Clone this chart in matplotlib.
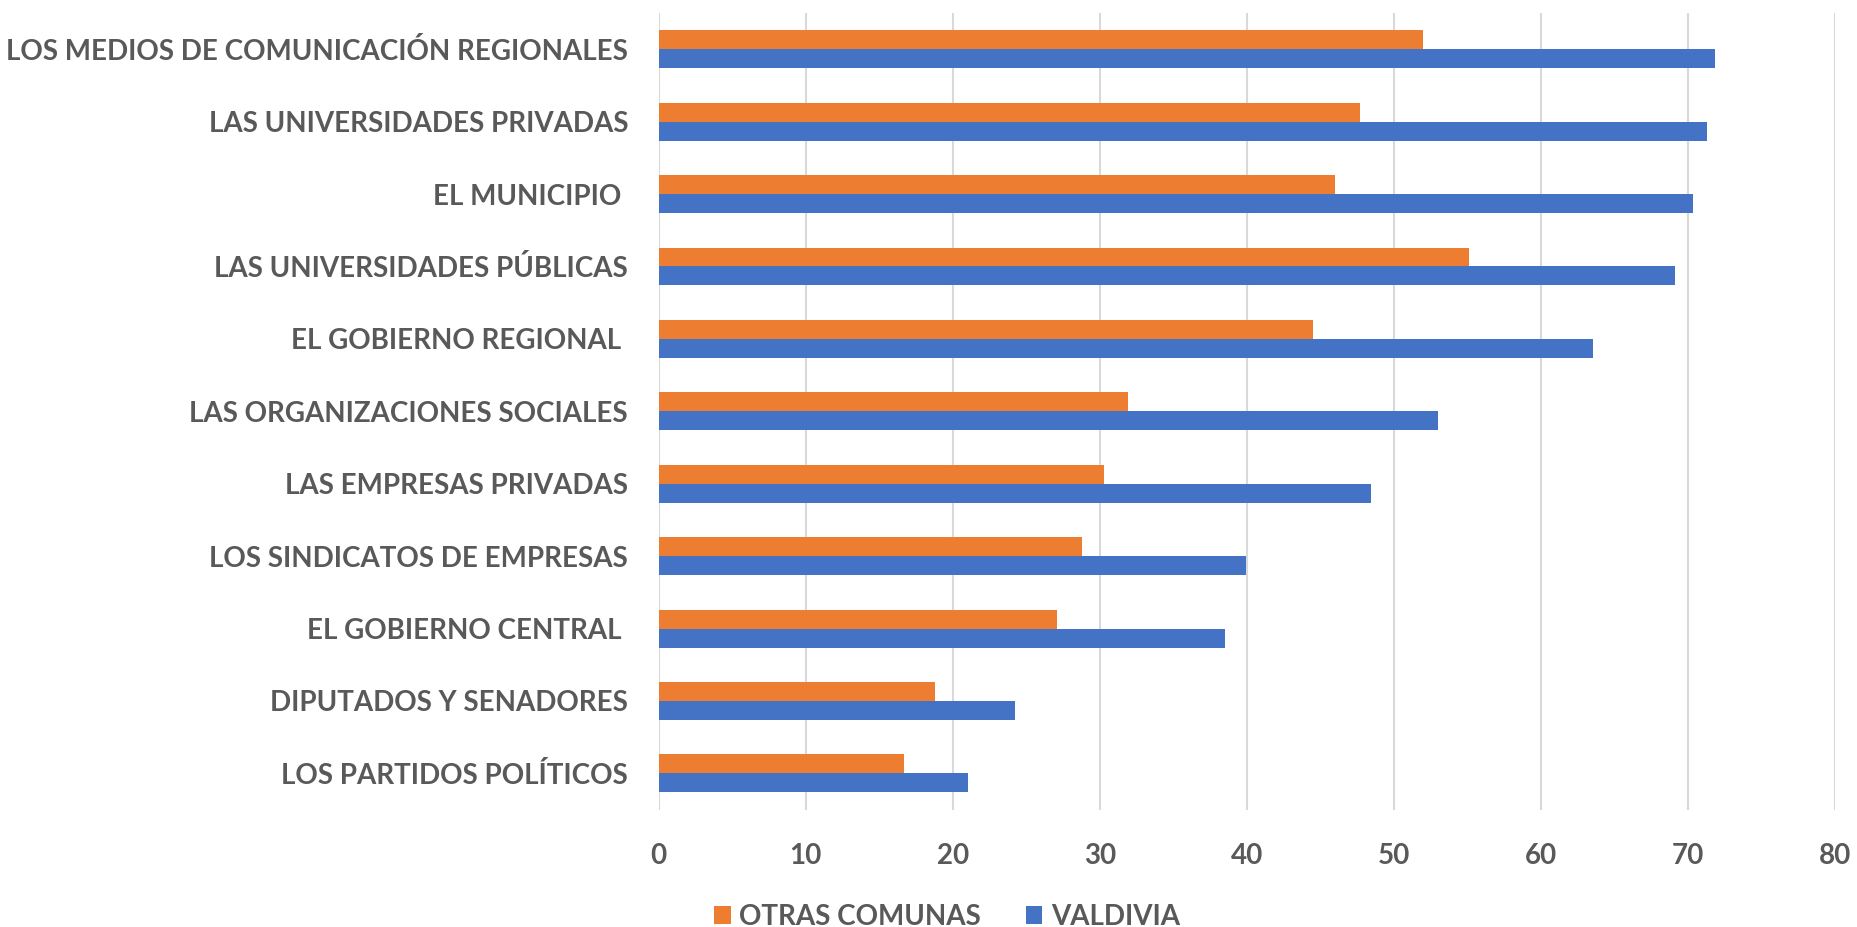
import numpy as np
import matplotlib.pyplot as plt

# instituciones, de arriba hacia abajo
categorias = [
    "LOS MEDIOS DE COMUNICACIÓN REGIONALES",
    "LAS UNIVERSIDADES PRIVADAS",
    "EL MUNICIPIO ",
    "LAS UNIVERSIDADES PÚBLICAS",
    "EL GOBIERNO REGIONAL ",
    "LAS ORGANIZACIONES SOCIALES",
    "LAS EMPRESAS PRIVADAS",
    "LOS SINDICATOS DE EMPRESAS",
    "EL GOBIERNO CENTRAL ",
    "DIPUTADOS Y SENADORES",
    "LOS PARTIDOS POLÍTICOS",
]
otras_comunas = [52.0, 47.7, 46.0, 55.1, 44.5, 31.9, 30.3, 28.8, 27.1, 18.8, 16.7]
valdivia = [71.8, 71.3, 70.3, 69.1, 63.5, 53.0, 48.4, 39.9, 38.5, 24.2, 21.0]
ticks_x = [0, 10, 20, 30, 40, 50, 60, 70, 80]

naranja = "#ED7D31"
azul = "#4472C4"
gris = "#595959"

plt.rcParams["font.family"] = ["Lato", "DejaVu Sans"]
plt.rcParams["font.weight"] = "bold"

fig = plt.figure(figsize=(18.57, 9.27), dpi=100)
ax = fig.add_axes([0.3547, 0.1267, 0.9883 - 0.3547, 0.9859 - 0.1267])

y = np.arange(len(categorias))
alto = 0.262
ax.barh(y - alto / 2, otras_comunas, height=alto, color=naranja, label="OTRAS COMUNAS", zorder=3)
ax.barh(y + alto / 2, valdivia, height=alto, color=azul, label="VALDIVIA", zorder=3)

ax.set_ylim(len(categorias) - 0.5, -0.5)
ax.set_xlim(0, 80)
ax.set_xticks(ticks_x)
ax.set_yticks(y)
ax.set_yticklabels(categorias)

ax.grid(axis="x", color="#d9d9d9", linewidth=1.5, zorder=0)
for s in ax.spines.values():
    s.set_visible(False)
ax.tick_params(axis="both", length=0, labelsize=20, labelcolor=gris)
ax.tick_params(axis="y", pad=22)
ax.tick_params(axis="x", pad=24)
for t in ax.get_xticklabels() + ax.get_yticklabels():
    t.set_fontweight("bold")

leg = fig.legend(loc="lower center", bbox_to_anchor=(0.51, -0.03), ncol=2, frameon=False,
                 fontsize=20, handlelength=0.6, handleheight=0.6, handletextpad=0.3,
                 columnspacing=1.6)
for t in leg.get_texts():
    t.set_color(gris)
    t.set_fontweight("bold")

fig.savefig("out.png", dpi=100)
